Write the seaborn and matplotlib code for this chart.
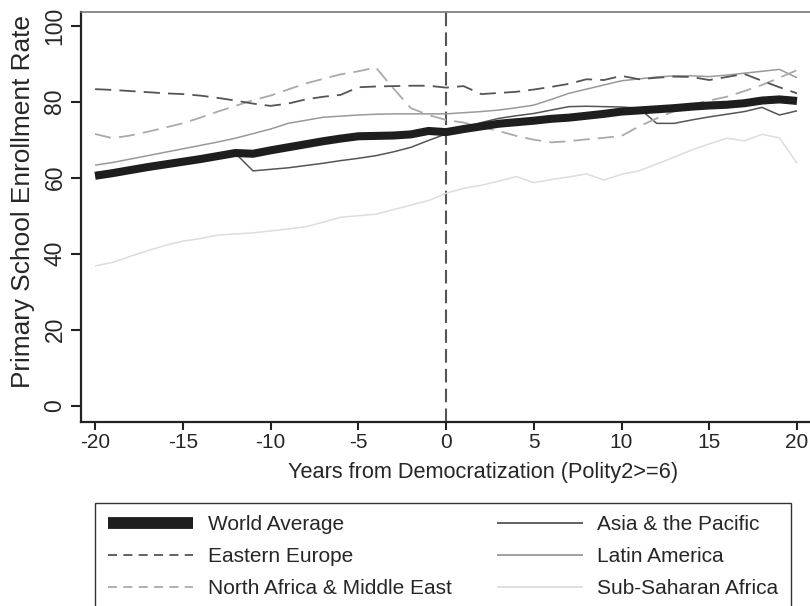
import matplotlib
matplotlib.use("Agg")
import matplotlib.pyplot as plt
from matplotlib.lines import Line2D
import seaborn as sns
import pandas as pd

# Years relative to democratization
years = list(range(-20, 21))

world_avg = [60.5, 61.2, 62.0, 62.8, 63.5, 64.2, 64.9, 65.7, 66.5, 66.3,
             67.2, 68.0, 68.8, 69.6, 70.3, 70.9, 71.0, 71.1, 71.4, 72.3,
             72.0, 72.8, 73.5, 74.2, 74.6, 75.0, 75.5, 75.8, 76.3, 76.8,
             77.4, 77.7, 78.0, 78.3, 78.7, 79.0, 79.2, 79.6, 80.3, 80.6, 80.2]
eastern_europe = [83.3, 83.1, 82.8, 82.5, 82.2, 82.0, 81.6, 81.0, 80.3, 79.5,
                  78.9, 79.5, 80.6, 81.3, 81.8, 83.8, 84.0, 84.1, 84.2, 84.2,
                  83.7, 84.1, 82.0, 82.3, 82.6, 83.2, 83.9, 84.7, 85.9, 85.7,
                  86.8, 85.9, 86.3, 86.6, 86.5, 85.7, 86.5, 87.3, 85.5, 83.8, 82.2]
north_africa_me = [71.5, 70.4, 71.1, 72.1, 73.2, 74.3, 75.8, 77.4, 78.9, 80.4,
                   81.6, 83.2, 84.8, 86.0, 87.2, 88.0, 89.0, 83.5, 78.3, 76.5,
                   75.2, 74.5, 73.3, 72.3, 71.0, 70.0, 69.3, 69.6, 70.1, 70.5,
                   71.0, 73.5, 75.6, 77.5, 79.3, 80.3, 81.3, 82.8, 84.4, 86.3, 88.3]
asia_pacific = [61.3, 61.9, 62.5, 63.2, 63.8, 64.4, 65.0, 65.6, 66.4, 61.8,
                62.2, 62.6, 63.2, 63.8, 64.5, 65.1, 65.8, 66.8, 68.0, 69.8,
                71.5, 73.0, 74.5, 75.6, 76.3, 76.9, 77.8, 78.7, 78.8, 78.7,
                78.6, 78.3, 74.3, 74.3, 75.2, 76.0, 76.7, 77.4, 78.5, 76.5, 77.6]
latin_america = [63.3, 64.0, 64.9, 65.8, 66.7, 67.6, 68.5, 69.4, 70.4, 71.6,
                 72.8, 74.3, 75.1, 75.9, 76.2, 76.5, 76.7, 76.8, 76.8, 76.8,
                 76.8, 77.1, 77.4, 77.8, 78.4, 79.1, 80.6, 82.2, 83.3, 84.4,
                 85.5, 86.0, 86.5, 86.8, 86.8, 86.6, 87.0, 87.5, 88.0, 88.5, 86.3]
sub_saharan = [36.8, 37.7, 39.3, 40.8, 42.2, 43.3, 44.0, 44.9, 45.2, 45.5,
               46.0, 46.5, 47.1, 48.3, 49.6, 50.0, 50.4, 51.6, 52.8, 54.0,
               55.9, 57.2, 58.0, 59.1, 60.3, 58.7, 59.5, 60.2, 61.0, 59.4,
               60.9, 61.8, 63.6, 65.4, 67.3, 68.9, 70.4, 69.7, 71.4, 70.5, 63.8]

x_ticks = [-20, -15, -10, -5, 0, 5, 10, 15, 20]
y_ticks = [0, 20, 40, 60, 80, 100]

sns.set_theme(style="ticks")
plt.rcParams["font.family"] = ["Liberation Sans", "DejaVu Sans"]

fig = plt.figure(figsize=(8.1, 6.06), dpi=100)
ax = fig.add_axes([0.1, 0.3041, 0.9, 0.6761])

# (label, values, color, linewidth, plot linestyle, legend linestyle, legend lw)
series = [
    ("World Average", world_avg, "#1e1e1e", 5.8, "-", "-", 8.5),
    ("Eastern Europe", eastern_europe, "#555555", 1.3, (0, (9, 4.5)), (0, (5, 3.5)), 1.3),
    ("North Africa & Middle East", north_africa_me, "#aaaaaa", 1.3, (0, (9, 4.5)), (0, (5, 3.5)), 1.3),
    ("Asia & the Pacific", asia_pacific, "#555555", 1.1, "-", "-", 1.3),
    ("Latin America", latin_america, "#999999", 1.1, "-", "-", 1.3),
    ("Sub-Saharan Africa", sub_saharan, "#dddddd", 1.1, "-", "-", 1.3),
]

# draw world average last so it sits on top
draw_order = [5, 4, 3, 2, 1, 0]
for i in draw_order:
    label, vals, color, lw, ls, _, _ = series[i]
    df = pd.DataFrame({"year": years, "rate": vals})
    sns.lineplot(data=df, x="year", y="rate", ax=ax, color=color,
                 linewidth=lw, linestyle=ls, solid_capstyle="butt",
                 dash_capstyle="butt", zorder=3 if i == 0 else 2)

ax.axvline(0, color="#555555", linewidth=1.5, linestyle=(0, (6.5, 3)), zorder=1)

ax.set_xlim(-20.8, 20.74)
ax.set_ylim(-4.2, 103.6)
ax.set_xticks(x_ticks)
ax.set_xticklabels([str(t) for t in x_ticks])
ax.set_yticks(y_ticks)
ax.set_yticklabels([str(t) for t in y_ticks], rotation=90, va="center")

ax.set_xlabel("Years from Democratization (Polity2>=6)", fontsize=15.7)
ax.set_ylabel("Primary School Enrollment Rate", fontsize=18.9)
ax.xaxis.set_label_coords(0.551, -0.098)
ax.yaxis.set_label_coords(-0.063, 0.537)

ax.tick_params(axis="x", length=6, width=1.5, color="#222222", labelsize=15, pad=2)
ax.tick_params(axis="y", length=7.5, width=1.5, color="#222222", labelsize=16.5, pad=3)

ax.spines["left"].set_color("#222222")
ax.spines["left"].set_linewidth(1.6)
ax.spines["bottom"].set_color("#222222")
ax.spines["bottom"].set_linewidth(1.6)
ax.spines["top"].set_color("#777777")
ax.spines["top"].set_linewidth(1.2)
ax.spines["right"].set_visible(False)

handles = []
labels = []
for label, vals, color, lw, ls, leg_ls, leg_lw in series:
    handles.append(Line2D([0], [0], color=color, linewidth=leg_lw, linestyle=leg_ls,
                          solid_capstyle="butt", dash_capstyle="butt"))
    labels.append(label)

leg = fig.legend(handles, labels, loc="upper left",
                 bbox_to_anchor=(95 / 810, 1 - 503 / 606),
                 ncol=2, fontsize=15, frameon=True,
                 fancybox=False, framealpha=1, edgecolor="#333333",
                 handlelength=4.1, handletextpad=0.7, labelspacing=0.62,
                 columnspacing=2.2, borderpad=0.6, borderaxespad=0)
leg.get_frame().set_linewidth(1.0)

fig.savefig("out.png", dpi=100)
